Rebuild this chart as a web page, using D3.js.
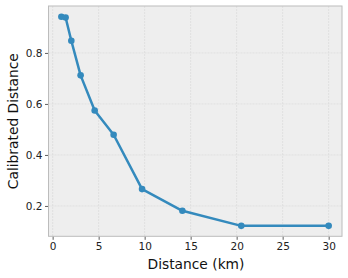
<!DOCTYPE html>
<html><head><meta charset="utf-8">
<script src="https://cdn.jsdelivr.net/npm/d3@7"></script>
<style>body{margin:0;background:#fff}svg{display:block;font-family:"DejaVu Sans",sans-serif}</style>
</head><body><svg id="c" width="348" height="278"></svg>
<script>
const distances = [0.95, 1.41, 2.03, 3.04, 4.57, 6.63, 9.72, 14.1, 20.5, 30.0];
const calibrated = [0.942, 0.939, 0.848, 0.712, 0.574, 0.479, 0.266, 0.181, 0.122, 0.122];
const xTicks = [0, 5, 10, 15, 20, 25, 30];
const yTicks = [0.2, 0.4, 0.6, 0.8];

const svg = d3.select("#c");
const L = 48.5, R = 342, T = 6, B = 236.3;
const x = d3.scaleLinear().domain([-0.45, 31.45]).range([L, R]);
const y = d3.scaleLinear().domain([0.081, 0.984]).range([B, T]);

svg.append("rect").attr("x", L).attr("y", T).attr("width", R - L).attr("height", B - T).attr("fill", "#eeeeee");

const gx = svg.append("g").attr("transform", `translate(0,${B})`)
  .call(d3.axisBottom(x).tickValues(xTicks).tickSize(3.5).tickPadding(2.5).tickFormat(d3.format("d")));
const gy = svg.append("g").attr("transform", `translate(${L},0)`)
  .call(d3.axisLeft(y).tickValues(yTicks).tickSize(3.5).tickPadding(2.5).tickFormat(d3.format(".1f")));
[gx, gy].forEach(g => {
  g.select(".domain").remove();
  g.selectAll(".tick line").attr("stroke", "#333").attr("stroke-width", 0.8);
  g.selectAll(".tick text").attr("fill", "#222").attr("font-size", 10.5).attr("font-family", "DejaVu Sans");
});

// grid
svg.append("g").selectAll("line").data(xTicks).join("line")
  .attr("x1", d => x(d)).attr("x2", d => x(d)).attr("y1", T).attr("y2", B)
  .attr("stroke", "#dcdcdc").attr("stroke-width", 0.8).attr("stroke-dasharray", "2,1");
svg.append("g").selectAll("line").data(yTicks).join("line")
  .attr("x1", L).attr("x2", R).attr("y1", d => y(d)).attr("y2", d => y(d))
  .attr("stroke", "#dcdcdc").attr("stroke-width", 0.8).attr("stroke-dasharray", "2,1");

// border
svg.append("rect").attr("x", L).attr("y", T).attr("width", R - L).attr("height", B - T)
  .attr("fill", "none").attr("stroke", "#bcbcbc").attr("stroke-width", 1);

const pts = distances.map((d, i) => [d, calibrated[i]]);
svg.append("path").datum(pts)
  .attr("d", d3.line().x(d => x(d[0])).y(d => y(d[1])))
  .attr("fill", "none").attr("stroke", "#348ABD").attr("stroke-width", 2.5).attr("stroke-linejoin", "round");
svg.append("g").selectAll("circle").data(pts).join("circle")
  .attr("cx", d => x(d[0])).attr("cy", d => y(d[1])).attr("r", 3.3).attr("fill", "#348ABD");

svg.append("text").attr("x", 196).attr("y", 269.3).attr("text-anchor", "middle")
  .attr("font-size", 13.8).attr("fill", "#111").text("Distance (km)");
svg.append("text").attr("transform", `translate(18,${(T + B) / 2}) rotate(-90)`).attr("text-anchor", "middle")
  .attr("font-size", 13.8).attr("fill", "#111").text("Calibrated Distance");
</script></body></html>
